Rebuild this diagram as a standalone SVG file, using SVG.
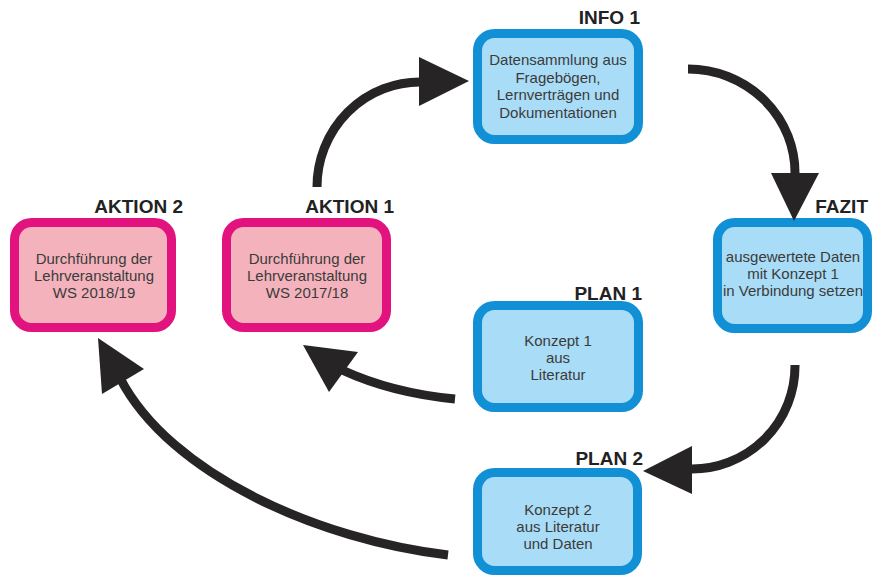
<svg xmlns="http://www.w3.org/2000/svg" width="873" height="577" viewBox="0 0 873 577">
<style>
.pink rect{fill:#F4B3BC;stroke:#E2137E;stroke-width:9}
.blue rect{fill:#A9DCF6;stroke:#1190D6;stroke-width:9}
.body{font-family:"Liberation Sans",Arial,sans-serif;font-size:15px;fill:#3b3b3b;text-anchor:middle}
.lbl{font-family:"Liberation Sans",Arial,sans-serif;font-size:19px;font-weight:bold;fill:#222;text-anchor:end}
.arr path{fill:none;stroke:#262424;stroke-width:9}
.arr polygon{fill:#262424}
</style>
<rect width="873" height="577" fill="#fff"/>
<g id="aktion2" class="pink">
<rect x="14.5" y="222.5" width="157" height="105" rx="17"/>
<text class="lbl" x="183" y="213">AKTION 2</text>
<text class="body" x="94" y="264">Durchführung der</text>
<text class="body" x="94" y="281">Lehrveranstaltung</text>
<text class="body" x="94" y="298">WS 2018/19</text>
</g>
<g id="aktion1" class="pink">
<rect x="226.5" y="222.5" width="160" height="105" rx="17"/>
<text class="lbl" x="394" y="213">AKTION 1</text>
<text class="body" x="307" y="264">Durchführung der</text>
<text class="body" x="307" y="281">Lehrveranstaltung</text>
<text class="body" x="307" y="298">WS 2017/18</text>
</g>
<g id="info1" class="blue">
<rect x="477.5" y="33.5" width="161" height="106" rx="17"/>
<text class="lbl" x="640" y="24">INFO 1</text>
<text class="body" x="558" y="65">Datensammlung aus</text>
<text class="body" x="558" y="83">Fragebögen,</text>
<text class="body" x="558" y="100">Lernverträgen und</text>
<text class="body" x="558" y="118">Dokumentationen</text>
</g>
<g id="fazit" class="blue">
<rect x="717.5" y="222.5" width="150" height="106" rx="17"/>
<text class="lbl" x="868" y="213">FAZIT</text>
<text class="body" x="793" y="262">ausgewertete Daten</text>
<text class="body" x="793" y="279">mit Konzept 1</text>
<text class="body" x="793" y="296">in Verbindung setzen</text>
</g>
<g id="plan1" class="blue">
<rect x="477.5" y="305.5" width="161" height="102" rx="17"/>
<text class="lbl" x="642" y="300">PLAN 1</text>
<text class="body" x="558" y="346">Konzept 1</text>
<text class="body" x="558" y="363">aus</text>
<text class="body" x="558" y="380">Literatur</text>
</g>
<g id="plan2" class="blue">
<rect x="477.5" y="472.5" width="160" height="98" rx="17"/>
<text class="lbl" x="643" y="465">PLAN 2</text>
<text class="body" x="558" y="515">Konzept 2</text>
<text class="body" x="558" y="532">aus Literatur</text>
<text class="body" x="558" y="549">und Daten</text>
</g>
<g id="connectors" class="arr">
<path d="M317,187 A103,105 0 0 1 422,82"/>
<polygon points="419,57 419,106 469,81"/>
<path d="M688,69 A107,104 0 0 1 795,175"/>
<polygon points="771,173 819,173 794,221"/>
<path d="M795,365 A103,103 0 0 1 690,469"/>
<polygon points="692,446 692,494 643,471"/>
<path d="M455,399 Q392,393 342,370"/>
<polygon points="303,345 358,352 329,392"/>
<path d="M448,555 C320,540 170,475 120,378"/>
<polygon points="98,338 144,369 102,394"/>
</g>
</svg>
